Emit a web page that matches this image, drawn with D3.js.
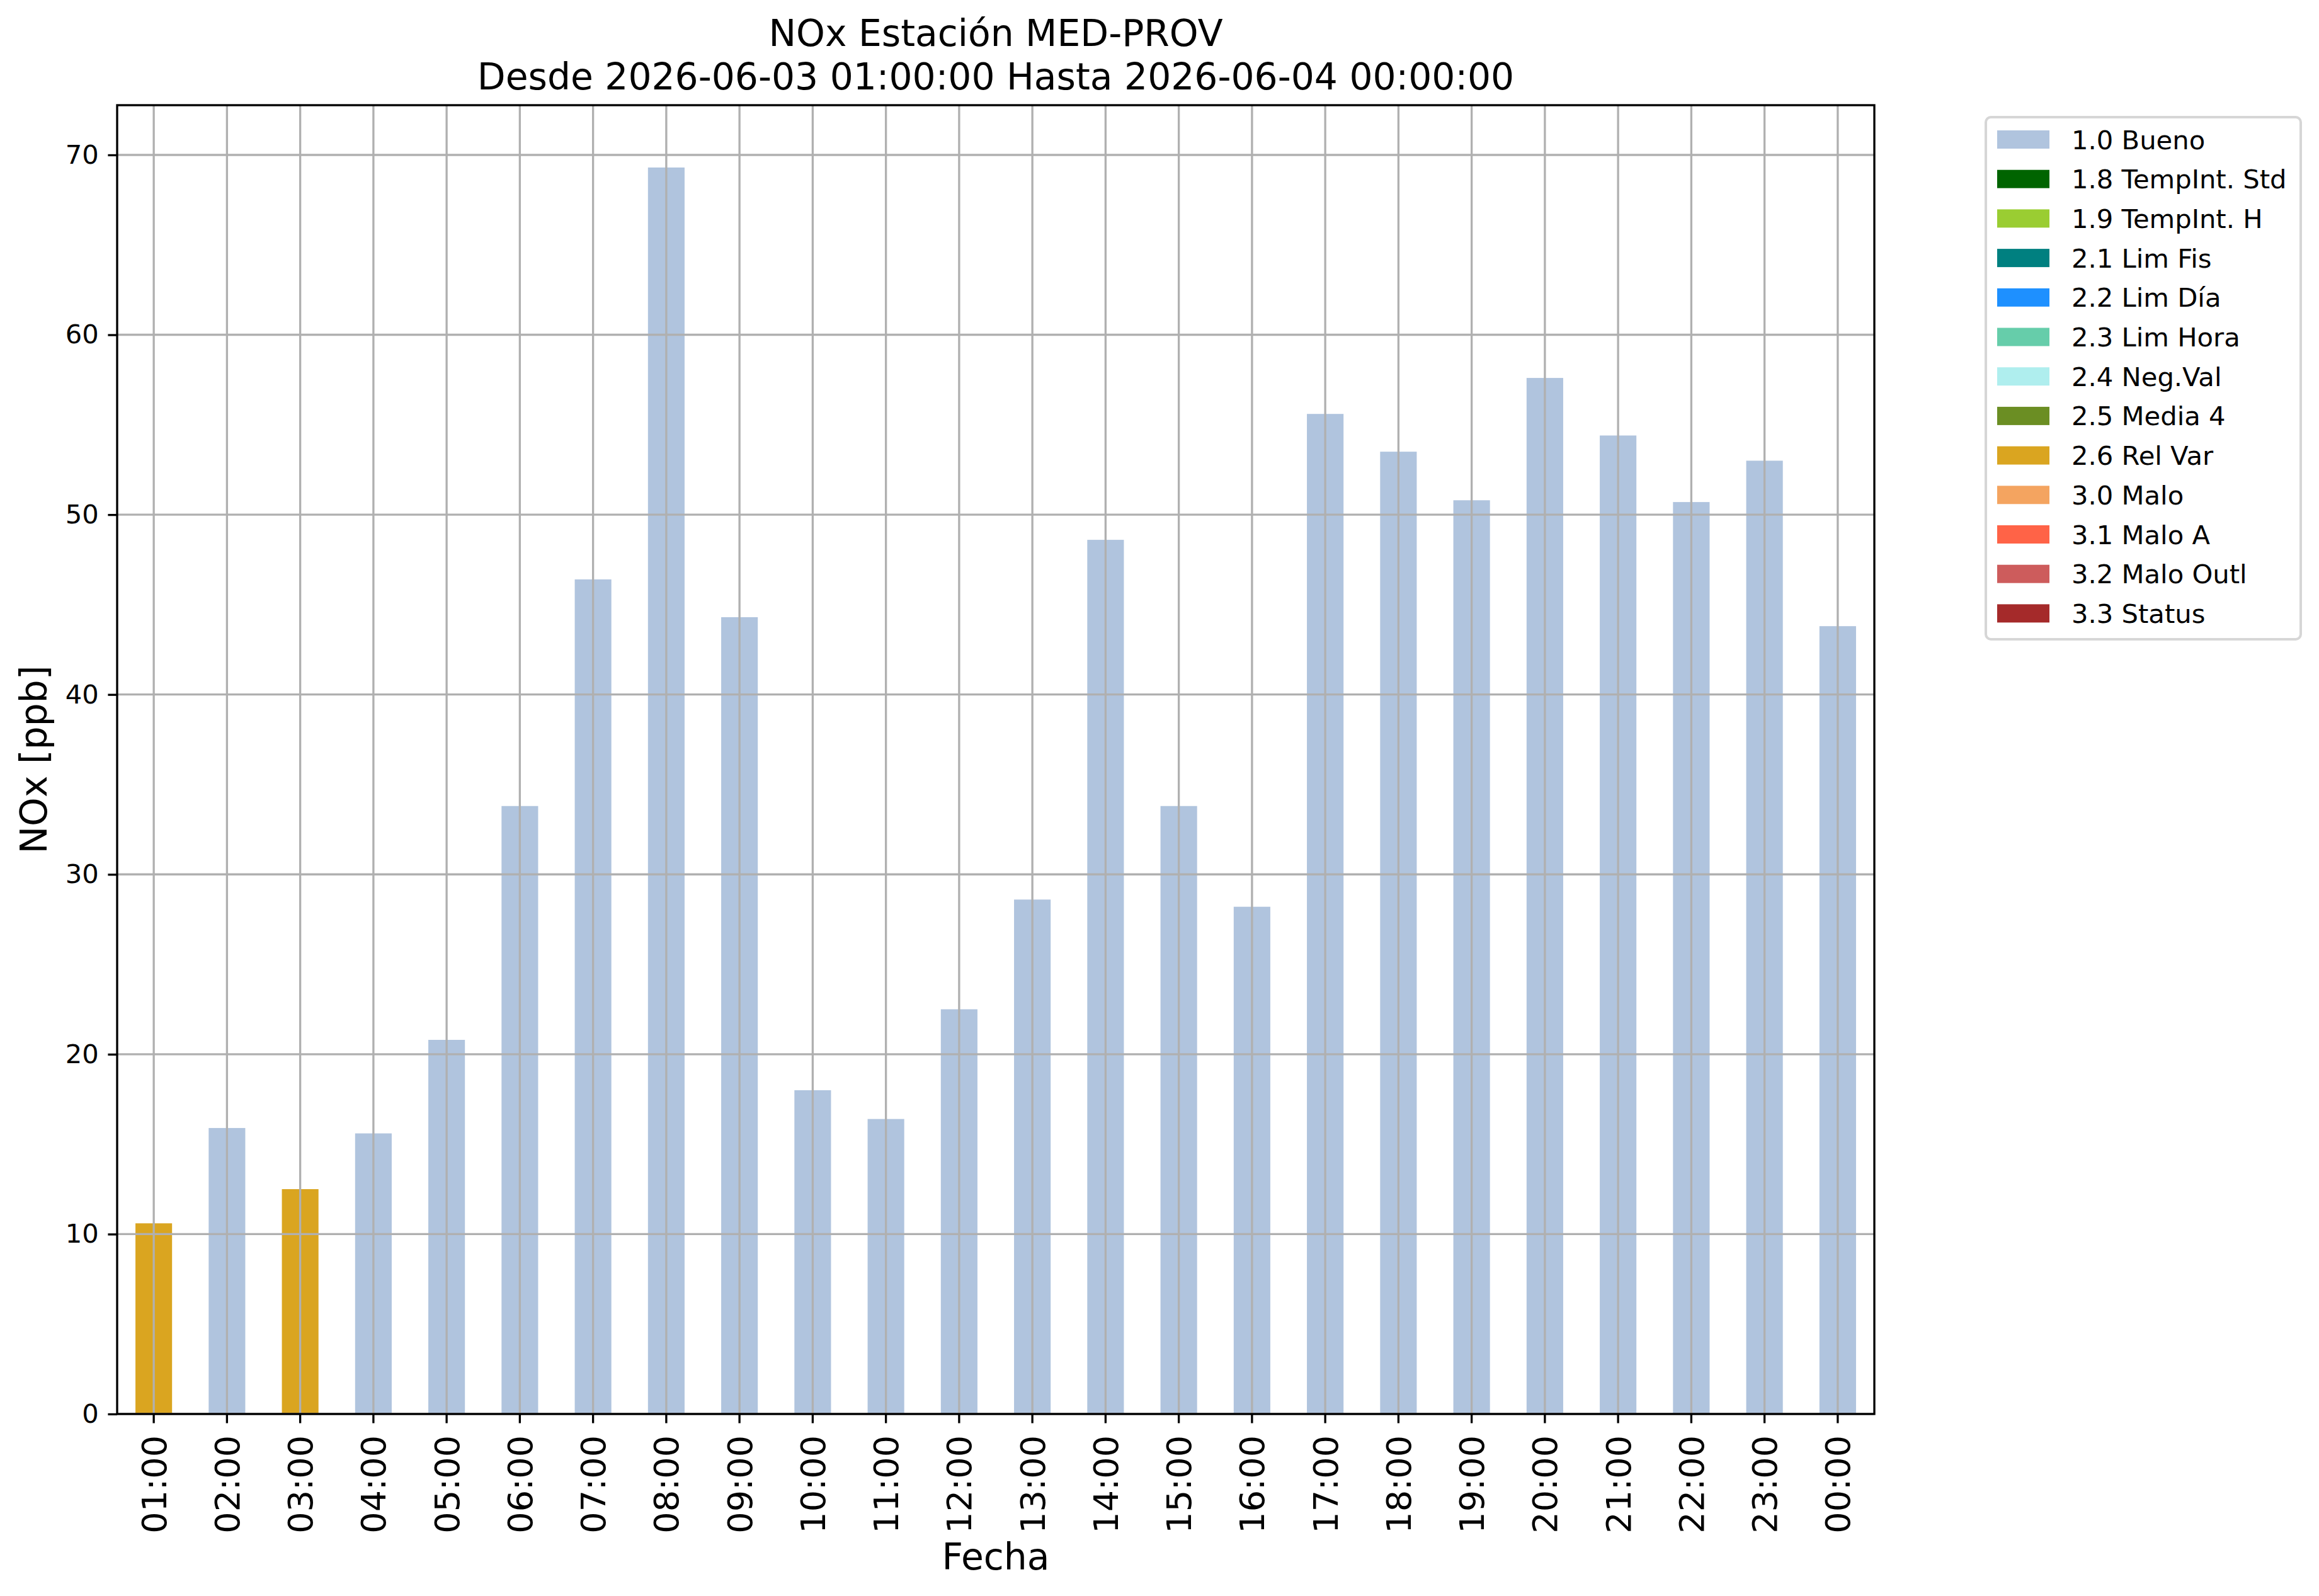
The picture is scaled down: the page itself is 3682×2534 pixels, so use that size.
<!DOCTYPE html>
<html>
<head>
<meta charset="utf-8">
<script src="https://cdn.jsdelivr.net/npm/d3@7"></script>
<style>
  html, body { margin: 0; padding: 0; background: #fff; }
  svg { display: block; }
  text { font-family: "DejaVu Sans", sans-serif; fill: #000; }
</style>
</head>
<body>
<div id="chart"></div>
<script>
// hourly NOx values and the validation flag of each hour
var hours = ["01:00", "02:00", "03:00", "04:00", "05:00", "06:00", "07:00", "08:00",
             "09:00", "10:00", "11:00", "12:00", "13:00", "14:00", "15:00", "16:00",
             "17:00", "18:00", "19:00", "20:00", "21:00", "22:00", "23:00", "00:00"];
var nox = [10.6, 15.9, 12.5, 15.6, 20.8, 33.8, 46.4, 69.3,
           44.3, 18.0, 16.4, 22.5, 28.6, 48.6, 33.8, 28.2,
           55.6, 53.5, 50.8, 57.6, 54.4, 50.7, 53.0, 43.8];
var hourFlag = ["2.6 Rel Var", "1.0 Bueno", "2.6 Rel Var", "1.0 Bueno", "1.0 Bueno", "1.0 Bueno",
                "1.0 Bueno", "1.0 Bueno", "1.0 Bueno", "1.0 Bueno", "1.0 Bueno", "1.0 Bueno",
                "1.0 Bueno", "1.0 Bueno", "1.0 Bueno", "1.0 Bueno", "1.0 Bueno", "1.0 Bueno",
                "1.0 Bueno", "1.0 Bueno", "1.0 Bueno", "1.0 Bueno", "1.0 Bueno", "1.0 Bueno"];

var flags = ["1.0 Bueno", "1.8 TempInt. Std", "1.9 TempInt. H", "2.1 Lim Fis", "2.2 Lim Día",
             "2.3 Lim Hora", "2.4 Neg.Val", "2.5 Media 4", "2.6 Rel Var", "3.0 Malo",
             "3.1 Malo A", "3.2 Malo Outl", "3.3 Status"];
var flagColors = ["#b0c4de", "#006400", "#9acd32", "#008080", "#1e90ff",
                  "#66cdaa", "#afeeee", "#6b8e23", "#daa520", "#f4a460",
                  "#ff6347", "#cd5c5c", "#a52a2a"];
var yTicks = [0, 10, 20, 30, 40, 50, 60, 70];

var W = 3682, H = 2534;
var axL = 186, axR = 2976, axT = 167, axB = 2245;
var lw = 3.33;

var svg = d3.select("#chart").append("svg")
  .attr("width", W).attr("height", H);

// one row per hour, one column per flag, for a stacked bar layout
var rows = hours.map(function (h, i) {
  var r = { hour: h };
  flags.forEach(function (f) { r[f] = hourFlag[i] === f ? nox[i] : 0; });
  return r;
});
var series = d3.stack().keys(flags)(rows);

var x = d3.scaleBand().domain(hours).range([axL, axR])
  .paddingInner(0.5).paddingOuter(0.25);
var y = d3.scaleLinear().domain([0, d3.max(nox) * 1.05]).range([axB, axT]);
var color = d3.scaleOrdinal().domain(flags).range(flagColors);

// bars
svg.append("g").selectAll("g").data(series).join("g")
  .attr("fill", function (d) { return color(d.key); })
  .selectAll("rect").data(function (d) { return d; }).join("rect")
  .attr("x", function (d) { return x(d.data.hour); })
  .attr("width", x.bandwidth())
  .attr("y", function (d) { return y(d[1]); })
  .attr("height", function (d) { return y(d[0]) - y(d[1]); });

// grid on top of the bars, like matplotlib does for patches
var grid = svg.append("g").attr("stroke", "#b0b0b0").attr("stroke-width", lw);
grid.selectAll("line.v").data(hours).join("line")
  .attr("class", "v")
  .attr("x1", function (d) { return x(d) + x.bandwidth() / 2; })
  .attr("x2", function (d) { return x(d) + x.bandwidth() / 2; })
  .attr("y1", axT).attr("y2", axB);
grid.selectAll("line.h").data(yTicks).join("line")
  .attr("class", "h")
  .attr("x1", axL).attr("x2", axR)
  .attr("y1", function (d) { return y(d); })
  .attr("y2", function (d) { return y(d); });

// axes
var yAxis = svg.append("g").attr("transform", "translate(" + axL + ",0)")
  .call(d3.axisLeft(y).tickValues(yTicks).tickSize(14.6).tickPadding(14.6));
yAxis.selectAll("text").style("font-size", "41.7px");

var xAxis = svg.append("g").attr("transform", "translate(0," + axB + ")")
  .call(d3.axisBottom(x).tickSize(14.6).tickPadding(0));
xAxis.selectAll("text")
  .style("font-size", "54px")
  .attr("text-anchor", "end")
  .attr("transform", "translate(0,34) rotate(-90)")
  .attr("x", 0).attr("y", 0).attr("dy", "0.36em");

svg.selectAll(".domain").remove();
svg.selectAll(".tick line").attr("stroke", "#000").attr("stroke-width", lw);

svg.append("rect")
  .attr("x", axL).attr("y", axT)
  .attr("width", axR - axL).attr("height", axB - axT)
  .attr("fill", "none").attr("stroke", "#000").attr("stroke-width", lw);

// titles and labels
var title = svg.append("text").attr("text-anchor", "middle").style("font-size", "58.3px");
title.append("tspan").attr("x", (axL + axR) / 2).attr("y", 73).text("NOx Estación MED-PROV");
title.append("tspan").attr("x", (axL + axR) / 2).attr("y", 142)
  .text("Desde 2026-06-03 01:00:00 Hasta 2026-06-04 00:00:00");

svg.append("text")
  .attr("text-anchor", "middle")
  .attr("transform", "translate(74," + (axT + axB) / 2 + ") rotate(-90)")
  .style("font-size", "58.3px")
  .text("NOx [ppb]");

svg.append("text")
  .attr("text-anchor", "middle")
  .attr("x", (axL + axR) / 2).attr("y", 2492)
  .style("font-size", "58.3px")
  .text("Fecha");

// legend
var lg = svg.append("g");
lg.append("rect")
  .attr("x", 3153).attr("y", 186).attr("width", 500).attr("height", 829)
  .attr("rx", 8).attr("ry", 8)
  .attr("fill", "#fff").attr("fill-opacity", 0.8)
  .attr("stroke", "#d6d6d6").attr("stroke-width", 4);
var item = lg.selectAll("g.item").data(flags).join("g")
  .attr("class", "item")
  .attr("transform", function (d, i) { return "translate(3171," + (221.5 + i * 62.7) + ")"; });
item.append("rect")
  .attr("x", 0).attr("y", -14.5).attr("width", 83).attr("height", 29)
  .attr("fill", function (d) { return color(d); });
item.append("text")
  .attr("x", 118).attr("dy", "0.36em")
  .style("font-size", "41.7px")
  .text(function (d) { return d; });
</script>
</body>
</html>
